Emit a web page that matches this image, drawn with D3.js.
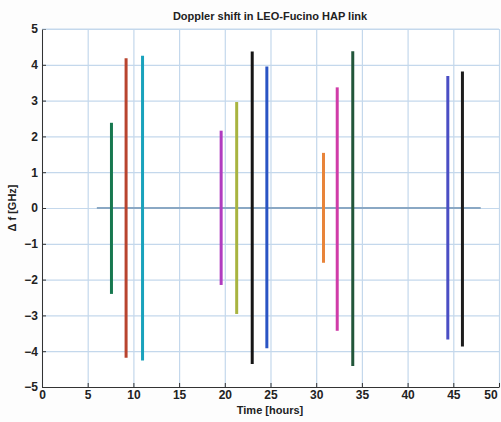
<!DOCTYPE html>
<html>
<head>
<meta charset="utf-8">
<script src="https://cdn.jsdelivr.net/npm/d3@7"></script>
<style>
  body { margin: 0; background: #fdfdfd; }
  .axis text { font-family: "Liberation Sans", Arial, sans-serif; font-weight: bold; font-size: 12px; fill: #222; }
  .axis path, .axis line { stroke: #333; }
  .grid line { stroke: #c4d8ec; stroke-width: 1.2; }
  .grid path { display: none; }
</style>
</head>
<body>
<script>
// Data: each pass = time [h], top and bottom Doppler shift [GHz]
const passTime = [7.6, 9.2, 11.0, 19.6, 21.3, 23.0, 24.6, 30.8, 32.3, 34.0, 44.4, 46.0];
const passTop = [2.38, 4.18, 4.25, 2.16, 2.96, 4.37, 3.95, 1.54, 3.37, 4.38, 3.69, 3.81];
const passBottom = [-2.4, -4.18, -4.26, -2.15, -2.96, -4.36, -3.92, -1.53, -3.43, -4.41, -3.67, -3.87];
const passColor = ['#17784f', '#b8442f', '#1aa2bc', '#b03cc0', '#a8b440', '#151515',
                   '#2a54c4', '#e8843a', '#d03ca8', '#22563a', '#4a4ec4', '#1c1c1c'];
const baseline = [6, 48]; // zero line extent [h]
const xTicks = [0, 5, 10, 15, 20, 25, 30, 35, 40, 45, 50];
const yTicks = [-5, -4, -3, -2, -1, 0, 1, 2, 3, 4, 5];

const margin = {top: 29, right: 2, bottom: 35, left: 42};
const width = 501 - margin.left - margin.right;
const height = 422 - margin.top - margin.bottom;

const svg = d3.select('body')
    .append('svg')
    .attr('width', 501)
    .attr('height', 422);

const g = svg.append('g')
    .attr('transform', `translate(${margin.left}, ${margin.top})`);

//Scales
const xScale = d3.scaleLinear([0, 50], [0, width]);
const yScale = d3.scaleLinear([-5, 5], [height, 0]);

g.append('rect')
    .attr('width', width)
    .attr('height', height)
    .style('fill', '#fff');

//Grid
g.append('g')
    .attr('class', 'grid')
    .call(d3.axisBottom(xScale).tickValues(xTicks).tickSize(height).tickFormat(''));
g.append('g')
    .attr('class', 'grid')
    .call(d3.axisLeft(yScale).tickValues(yTicks).tickSize(-width).tickFormat(''));

//Zero line
g.append('line')
    .attr('x1', xScale(baseline[0]))
    .attr('x2', xScale(baseline[1]))
    .attr('y1', yScale(0))
    .attr('y2', yScale(0))
    .style('stroke', '#8aa8c4')
    .style('stroke-width', 2);

//Passes
g.selectAll('.pass')
    .data(passTime)
    .enter()
    .append('line')
    .attr('class', 'pass')
    .attr('x1', d => xScale(d))
    .attr('x2', d => xScale(d))
    .attr('y1', (d, i) => yScale(passTop[i]))
    .attr('y2', (d, i) => yScale(passBottom[i]))
    .style('stroke', (d, i) => passColor[i])
    .style('stroke-width', 3);

//Axes
const xAxisDraw = g.append('g')
    .attr('class', 'axis')
    .attr('transform', `translate(0, ${height})`)
    .call(d3.axisBottom(xScale).tickValues(xTicks).tickSizeInner(-4).tickSizeOuter(0).tickPadding(3));

// keep the last tick label inside the window
xAxisDraw.selectAll('.tick text')
    .filter(d => d === 50)
    .attr('text-anchor', 'end')
    .attr('dx', '-0.15em');

g.append('g')
    .attr('class', 'axis')
    .call(d3.axisLeft(yScale).tickValues(yTicks).tickSizeInner(-4).tickSizeOuter(0).tickPadding(4));

g.append('line')
    .attr('x1', 0).attr('x2', width)
    .attr('y1', 0).attr('y2', 0)
    .style('stroke', '#c4d8ec');

//Labels
svg.append('text')
    .attr('x', 270)
    .attr('y', 20)
    .attr('text-anchor', 'middle')
    .style('font-family', '"Liberation Sans", Arial, sans-serif')
    .style('font-weight', 'bold')
    .style('font-size', '11px')
    .style('fill', '#222')
    .text('Doppler shift in LEO-Fucino HAP link');

svg.append('text')
    .attr('x', 270)
    .attr('y', 414)
    .attr('text-anchor', 'middle')
    .style('font-family', '"Liberation Sans", Arial, sans-serif')
    .style('font-weight', 'bold')
    .style('font-size', '11px')
    .style('fill', '#222')
    .text('Time [hours]');

svg.append('text')
    .attr('transform', `translate(16, ${margin.top + yScale(0)}) rotate(-90)`)
    .attr('text-anchor', 'middle')
    .style('font-family', '"Liberation Sans", Arial, sans-serif')
    .style('font-weight', 'bold')
    .style('font-size', '11px')
    .style('fill', '#222')
    .text('Δ f [GHz]');
</script>
</body>
</html>
